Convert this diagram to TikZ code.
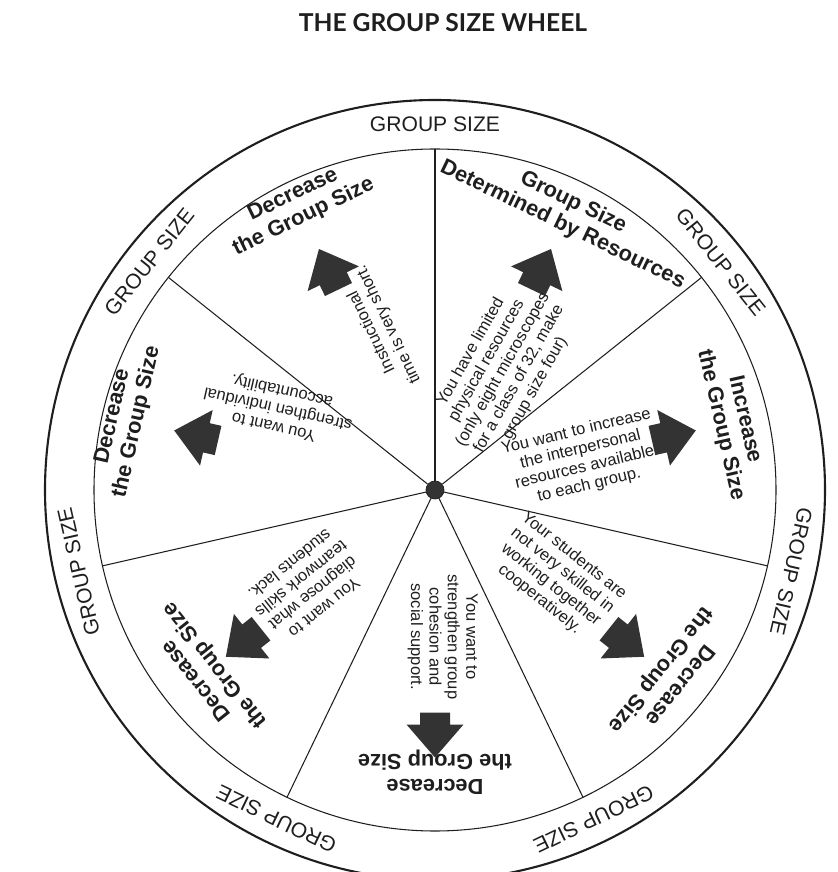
\documentclass[tikz,border=0pt]{standalone}
\usepackage{fontspec}
\setmainfont{Liberation Sans}
\newfontfamily\titlefont{Lato}
\definecolor{ink}{HTML}{1E1E1E}
\definecolor{arrowgray}{HTML}{333333}
\tikzset{
  ringlabel/.style={font=\fontsize{12}{14}\selectfont, text=ink, inner sep=0pt},
  heading/.style={font=\bfseries\fontsize{12.4}{14}\selectfont, text=ink, align=center, inner sep=0pt},
  reason/.style={font=\fontsize{9.4}{10.5}\selectfont, text=ink, align=center, inner sep=0pt},
  fatarrow/.style={fill=arrowgray},
}
% sector texts, by sector number
\newcommand\sectorhead[1]{\ifcase#1\or
  Decrease\\the Group Size\or
  Decrease\\the Group Size\or
  Decrease\\the Group Size\or
  Decrease\\the Group Size\or
  Decrease\\the Group Size\or
  Increase\\the Group Size\or
  Group Size\\Determined by Resources\fi}
\newcommand\sectorwhy[1]{\ifcase#1\or
  Instructional\\time is very short.\or
  You want to\\strengthen individual\\accountability.\or
  You want to\\diagnose what\\teamwork skills\\students lack.\or
  You want to\\strengthen group\\cohesion and\\social support.\or
  Your students are\\not very skilled in\\working together\\cooperatively.\or
  You want to increase\\the interpersonal\\resources available\\to each group.\or
  You have limited\\physical resources\\(only eight microscopes\\for a class of 32, make\\group size four)\fi}
\begin{document}
\begin{tikzpicture}[line join=round]
    \clip (-8.70,-7.64) rectangle (8.04,9.80);

    % Title
    \node[font=\titlefont\bfseries\fontsize{14}{16}\selectfont, text=ink] (title) at (0.16,9.34) {THE GROUP SIZE WHEEL};

    % Rims
    \draw[ink, line width=1.2pt] (0,0) circle (7.8);
    \draw[ink, line width=0.6pt] (0,0) circle (6.82);

    % Hub, spokes and ring labels
    \node[circle, fill=arrowgray, draw=ink, minimum size=0.36cm, inner sep=0pt] (hub) at (0,0) {};
    \foreach \i in {0,...,6} {
        \pgfmathsetmacro{\s}{90+\i*360/7}
        \coordinate (rim\i) at (\s:6.82);
        \draw[ink, line width=0.6pt] (hub) -- (rim\i);
        \node[ringlabel, rotate=\s-90] (ring\i) at (\s:7.31) {GROUP SIZE};
    }

    % Sectors: heading, arrow, reason
    \foreach \i/\ang/\hrad/\wang/\wrad/\wrot in {1/115.71/6.30/108.7/3.42/115.71, 2/167.14/6.36/152.4/3.54/167.14,
            3/218.57/5.85/217.0/3.20/218.57, 4/270.00/5.64/273.0/2.94/270, 5/321.43/6.00/324.2/3.00/321.43,
            6/12.86/6.10/12.0/3.02/13.5, 7/64.29/6.13/60.5/2.76/60.5} {
        \node[heading, rotate=\ang-90] (head\i) at (\ang:\hrad) {\sectorhead{\i}};
        \fill[fatarrow, shift={(\ang:4.45)}, rotate=\ang]
            (0,-0.3) -- (0.24,-0.3) -- (0.24,-0.57) -- (0.9,0) -- (0.24,0.57) -- (0.24,0.3) -- (0,0.3) -- cycle;
        \node[reason, rotate=\wrot] (why\i) at (\wang:\wrad) {\sectorwhy{\i}};
    }
\end{tikzpicture}
\end{document}
